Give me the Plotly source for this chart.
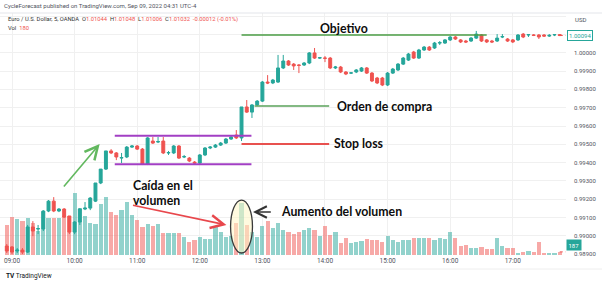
import pandas as pd
import plotly.graph_objects as go

# ---------------- data (EUR/USD, 5 min, OANDA) ----------------
opens = [
    0.98945, 0.98940, 0.98918, 0.98923, 0.98912, 0.99049, 0.99038, 0.99038, 0.99136, 0.99190,
    0.99136, 0.99147, 0.99109, 0.99021, 0.99076, 0.99147, 0.99152, 0.99190, 0.99289, 0.99365,
    0.99464, 0.99453, 0.99425, 0.99431, 0.99485, 0.99491, 0.99474, 0.99392, 0.99518, 0.99513,
    0.99518, 0.99453, 0.99453, 0.99491, 0.99431, 0.99425, 0.99403, 0.99398, 0.99442, 0.99480,
    0.99485, 0.99496, 0.99507, 0.99529, 0.99551, 0.99535, 0.99704, 0.99676, 0.99715, 0.99736,
    0.99840, 0.99835, 0.99840, 0.99917, 0.99955, 0.99938, 0.99933, 0.99933, 0.99944, 0.99999,
    0.99971, 0.99971, 0.99971, 0.99917, 0.99922, 0.99895, 0.99889, 0.99895, 0.99900, 0.99917,
    0.99889, 0.99862, 0.99862, 0.99824, 0.99889, 0.99906, 0.99938, 0.99960, 1.00004, 0.99971,
    1.00015, 1.00031, 1.00026, 1.00053, 1.00053, 1.00070, 1.00086, 1.00070, 1.00064, 1.00064,
    1.00080, 1.00097, 1.00070, 1.00064, 1.00064, 1.00086, 1.00075, 1.00070, 1.00070, 1.00102,
    1.00097, 1.00097, 1.00097, 1.00097, 1.00091, 1.00097, 1.00099]
highs = [
    0.98956, 0.98945, 0.98934, 0.98934, 0.99060, 0.99081, 0.99060, 0.99141, 0.99196, 0.99212,
    0.99152, 0.99152, 0.99109, 0.99081, 0.99152, 0.99185, 0.99212, 0.99289, 0.99365, 0.99464,
    0.99474, 0.99458, 0.99453, 0.99491, 0.99496, 0.99496, 0.99480, 0.99540, 0.99540, 0.99540,
    0.99540, 0.99464, 0.99496, 0.99496, 0.99442, 0.99431, 0.99409, 0.99447, 0.99485, 0.99491,
    0.99502, 0.99513, 0.99535, 0.99546, 0.99578, 0.99704, 0.99742, 0.99720, 0.99742, 0.99846,
    0.99878, 0.99857, 0.99988, 0.99988, 0.99960, 0.99944, 0.99938, 0.99949, 1.00004, 1.00026,
    0.99977, 0.99982, 0.99977, 0.99928, 0.99928, 0.99900, 0.99895, 0.99911, 0.99922, 0.99922,
    0.99895, 0.99868, 0.99868, 0.99895, 0.99917, 0.99944, 0.99977, 0.99999, 1.00010, 1.00021,
    1.00037, 1.00037, 1.00059, 1.00064, 1.00075, 1.00091, 1.00091, 1.00075, 1.00070, 1.00086,
    1.00119, 1.00102, 1.00075, 1.00070, 1.00102, 1.00102, 1.00080, 1.00075, 1.00102, 1.00108,
    1.00102, 1.00102, 1.00102, 1.00102, 1.00102, 1.00102, 1.00102]
lows = [
    0.98907, 0.98901, 0.98907, 0.98901, 0.98907, 0.98999, 0.99010, 0.99027, 0.99130, 0.99130,
    0.99130, 0.99098, 0.99010, 0.99010, 0.99060, 0.99141, 0.99141, 0.99185, 0.99283, 0.99360,
    0.99447, 0.99414, 0.99398, 0.99425, 0.99480, 0.99469, 0.99387, 0.99387, 0.99502, 0.99507,
    0.99447, 0.99442, 0.99447, 0.99420, 0.99425, 0.99403, 0.99392, 0.99392, 0.99436, 0.99474,
    0.99480, 0.99491, 0.99502, 0.99524, 0.99529, 0.99518, 0.99671, 0.99644, 0.99709, 0.99731,
    0.99829, 0.99829, 0.99835, 0.99911, 0.99928, 0.99906, 0.99889, 0.99928, 0.99938, 0.99966,
    0.99966, 0.99949, 0.99911, 0.99911, 0.99889, 0.99878, 0.99884, 0.99889, 0.99895, 0.99884,
    0.99840, 0.99829, 0.99818, 0.99818, 0.99884, 0.99900, 0.99933, 0.99955, 0.99966, 0.99966,
    1.00010, 1.00010, 1.00021, 1.00042, 1.00048, 1.00064, 1.00070, 1.00053, 1.00053, 1.00059,
    1.00075, 1.00059, 1.00053, 1.00053, 1.00059, 1.00080, 1.00059, 1.00053, 1.00064, 1.00080,
    1.00086, 1.00091, 1.00075, 1.00086, 1.00086, 1.00091, 1.00091]
closes = [
    0.98918, 0.98912, 0.98923, 0.98912, 0.99049, 0.99027, 0.99040, 0.99136, 0.99190, 0.99136,
    0.99147, 0.99103, 0.99021, 0.99076, 0.99147, 0.99152, 0.99207, 0.99289, 0.99365, 0.99464,
    0.99453, 0.99431, 0.99428, 0.99485, 0.99491, 0.99474, 0.99392, 0.99535, 0.99507, 0.99515,
    0.99453, 0.99455, 0.99491, 0.99425, 0.99433, 0.99409, 0.99398, 0.99442, 0.99480, 0.99485,
    0.99496, 0.99507, 0.99529, 0.99540, 0.99535, 0.99704, 0.99676, 0.99715, 0.99736, 0.99840,
    0.99835, 0.99851, 0.99917, 0.99955, 0.99933, 0.99928, 0.99931, 0.99944, 0.99999, 0.99971,
    0.99973, 0.99970, 0.99917, 0.99922, 0.99895, 0.99884, 0.99890, 0.99906, 0.99917, 0.99889,
    0.99846, 0.99835, 0.99824, 0.99889, 0.99911, 0.99938, 0.99971, 0.99993, 0.99971, 1.00015,
    1.00031, 1.00015, 1.00053, 1.00055, 1.00070, 1.00086, 1.00075, 1.00059, 1.00059, 1.00080,
    1.00102, 1.00064, 1.00059, 1.00059, 1.00080, 1.00088, 1.00064, 1.00059, 1.00097, 1.00086,
    1.00099, 1.00095, 1.00086, 1.00091, 1.00095, 1.00099, 1.00094]
volumes = [
    1800, 2280, 2160, 2040, 2220, 1920, 1440, 2580, 2220, 2220,
    2220, 2340, 2340, 3720, 2820, 2340, 1920, 1860, 3060, 3480,
    2580, 2400, 2700, 3180, 2400, 2100, 1680, 1860, 1740, 1860,
    1320, 1320, 1320, 1320, 1080, 780, 900, 1080, 960, 960,
    1740, 1380, 1080, 1140, 1920, 3120, 1800, 1380, 1080, 1740,
    2040, 1620, 1920, 1500, 1380, 1260, 1380, 1500, 1620, 1500,
    1140, 1740, 1200, 1380, 720, 1020, 720, 780, 840, 960,
    900, 900, 780, 1140, 900, 780, 900, 900, 1020, 1020,
    1020, 1020, 900, 1020, 960, 1380, 1020, 540, 600, 420,
    420, 480, 360, 360, 1020, 540, 420, 420, 120, 180,
    240, 180, 780, 120, 120, 120, 187]

# price-axis ticks (top two are hidden behind the USD / last-price labels)
price_ticks = [0.989, 0.990, 0.991, 0.992, 0.993, 0.994, 0.995, 0.996, 0.997, 0.998, 0.999,
               1.000, 1.001, 1.002]
price_tick_text = ["0.98900", "0.99000", "0.99100", "0.99200", "0.99300", "0.99400", "0.99500",
                   "0.99600", "0.99700", "0.99800", "0.99900", "1.00000", "", ""]

# annotation levels (prices)
box_top, box_bottom = 0.99547, 0.99392
target_price = 1.00097
buy_price = 0.99709
stop_price = 0.99502
last_price = 1.00094
tick_labels_fmt = "%H:%M"

# ---------------- helpers ----------------
base = pd.Timestamp("2022-09-08 08:55")
step = pd.Timedelta(minutes=5)
n = len(opens)
times = [base + step * i for i in range(n)]


def T(i):
    return (base + step * i).strftime("%Y-%m-%d %H:%M:%S.%f")


UP, DOWN = "#26a69a", "#ef5350"
vol_colors = ["rgba(38,166,154,0.5)" if c >= o else "rgba(239,83,80,0.5)"
              for o, c in zip(opens, closes)]

W, H = 602, 284
ML, MR, MT, MB = 0, 36, 13, 29
PW, PH = W - ML - MR, H - MT - MB


def px(x):
    return (x - ML) / PW


def py(y):
    return (H - MB - y) / PH


fig = go.Figure()
fig.add_trace(go.Bar(x=times, y=volumes, marker=dict(color=vol_colors, line=dict(width=0)),
                     width=240000, yaxis="y", hoverinfo="skip", showlegend=False))
fig.add_trace(go.Candlestick(
    x=times, open=opens, high=highs, low=lows, close=closes, yaxis="y2",
    increasing=dict(line=dict(color=UP, width=1), fillcolor=UP),
    decreasing=dict(line=dict(color=DOWN, width=1), fillcolor=DOWN),
    whiskerwidth=0, showlegend=False, hoverinfo="skip"))

TXT = dict(family="Lato, 'Open Sans', sans-serif", size=12.3, color="#0d0d0d", weight="bold")
shapes = []


def hline(i0, i1, yv, color, width=1.6, dash="solid"):
    shapes.append(dict(type="line", xref="x", yref="y2", x0=T(i0), x1=T(i1), y0=yv, y1=yv,
                       line=dict(color=color, width=width, dash=dash), layer="above"))


PURPLE = "#a23fc4"
hline(20.7, 46.9, box_top, PURPLE, 2)
hline(20.7, 46.9, box_bottom, PURPLE, 2)
hline(45.0, 92.0, target_price, "#4a9d45", 1.6)
hline(47.5, 61.8, buy_price, "#5aa25a", 1.6)
hline(45.0, 61.8, stop_price, "#e8514f", 1.8)
hline(106, 107.2, last_price, DOWN, 1, "dot")
shapes.append(dict(type="line", xref="x", yref="y", x0=T(106), x1=T(107.2), y0=187, y1=187,
                   line=dict(color=DOWN, width=1, dash="dot")))
# ellipse around the volume spike
shapes.append(dict(type="circle", xref="x", yref="y2", x0=T(42.9), x1=T(47.1),
                   y0=0.98907, y1=0.99196, fillcolor="rgba(255,246,196,0.55)",
                   line=dict(color="#3a3a3a", width=1.3), layer="above"))
# header / footer separators
shapes.append(dict(type="line", xref="paper", yref="paper", x0=0, x1=px(W), y0=1, y1=1,
                   line=dict(color="#e3e5ea", width=1)))
shapes.append(dict(type="line", xref="paper", yref="paper", x0=0, x1=px(W), y0=py(269), y1=py(269),
                   line=dict(color="#eeeeee", width=1)))

ann = []


def arrow(i_tail, p_tail, i_head, p_head, color, width=1.6):
    ann.append(dict(x=T(i_head), y=p_head, ax=T(i_tail), ay=p_tail, xref="x", yref="y2",
                    axref="x", ayref="y2", text="", showarrow=True, arrowhead=5,
                    arrowsize=1.6, arrowwidth=width, arrowcolor=color, standoff=0))


arrow(10.7, 0.99262, 17.8, 0.99502, "#62b85f")
arrow(23.9, 0.99169, 42.1, 0.99060, "#e8474c")
arrow(50.9, 0.99131, 47.2, 0.99131, "#333333", 1.4)


def label(i, p, text, xanchor="left"):
    ann.append(dict(x=T(i), y=p, xref="x", yref="y2", text=text, showarrow=False,
                    xanchor=xanchor, yanchor="middle", font=TXT))


label(64.7, 1.00135, "Objetivo", "center")
label(62.9, buy_price, "Orden de compra")
label(62.4, stop_price, "Stop loss")
label(52.2, 0.99131, "Aumento del volumen")
label(23.9, 0.99273, "Caída en el")
label(23.9, 0.99191, "volumen")

RED = "#ef5350"


def ptext(x, y, text, size=6, color="#50535e", xanchor="left", **kw):
    d = dict(x=px(x), y=py(y), xref="paper", yref="paper", text=text, showarrow=False,
             xanchor=xanchor, yanchor="middle", font=dict(family="Roboto, sans-serif", size=size, color=color))
    d.update(kw)
    ann.append(d)


ptext(2, 5.5, "CycleForecast published on TradingView.com, Sep 09, 2022 04:31 UTC-4", 6)
ptext(6, 19.5, "Euro / U.S. Dollar, 5, OANDA  O<span style='color:%s'>1.01044</span>  "
      "H<span style='color:%s'>1.01048</span>  L<span style='color:%s'>1.01006</span>  "
      "C<span style='color:%s'>1.01032</span>  <span style='color:%s'>-0.00012 (-0.01%%)</span>"
      % (RED, RED, RED, RED, RED), 5.8, "#333333")
ptext(6, 28.5, "Vol  <span style='color:%s'>180</span>" % RED, 5.8, "#333333")
ptext(573, 19.5, "USD", 6)
ptext(567, 35.5, "1.00094", 6, UP, bgcolor="#ffffff", bordercolor=UP, borderwidth=1, borderpad=1)
ptext(566, 245, "187", 6, "#ffffff", bgcolor=UP, borderpad=1.5)
ptext(4, 276, "<b>TV</b> TradingView", 6.5, "#131722")

fig.update_layout(
    width=W, height=H, margin=dict(l=ML, r=MR, t=MT, b=MB),
    paper_bgcolor="#ffffff", plot_bgcolor="#ffffff",
    showlegend=False, shapes=shapes, annotations=ann,
    xaxis=dict(type="date", range=[T(-1.3), T(107.2)], rangeslider=dict(visible=False),
               showgrid=True, gridcolor="#f0f0f0", gridwidth=1, tickformat=tick_labels_fmt,
               dtick=3600000, tick0="2022-09-08 09:00", ticks="", zeroline=False, showline=False,
               tickfont=dict(family="Roboto, sans-serif", size=6.5, color="#50535e")),
    yaxis=dict(range=[0, 14520], visible=False, showgrid=False, fixedrange=True),
    yaxis2=dict(overlaying="y", side="right", range=[0.98896, 1.00217],
                tickmode="array", tickvals=price_ticks, ticktext=price_tick_text,
                showgrid=True, gridcolor="#f0f0f0",
                zeroline=False, showline=False, ticks="", ticklabelstandoff=7,
                tickfont=dict(family="Roboto, sans-serif", size=6, color="#50535e")),
    bargap=0, boxgap=0.2,
)

fig.write_html("out.html")
